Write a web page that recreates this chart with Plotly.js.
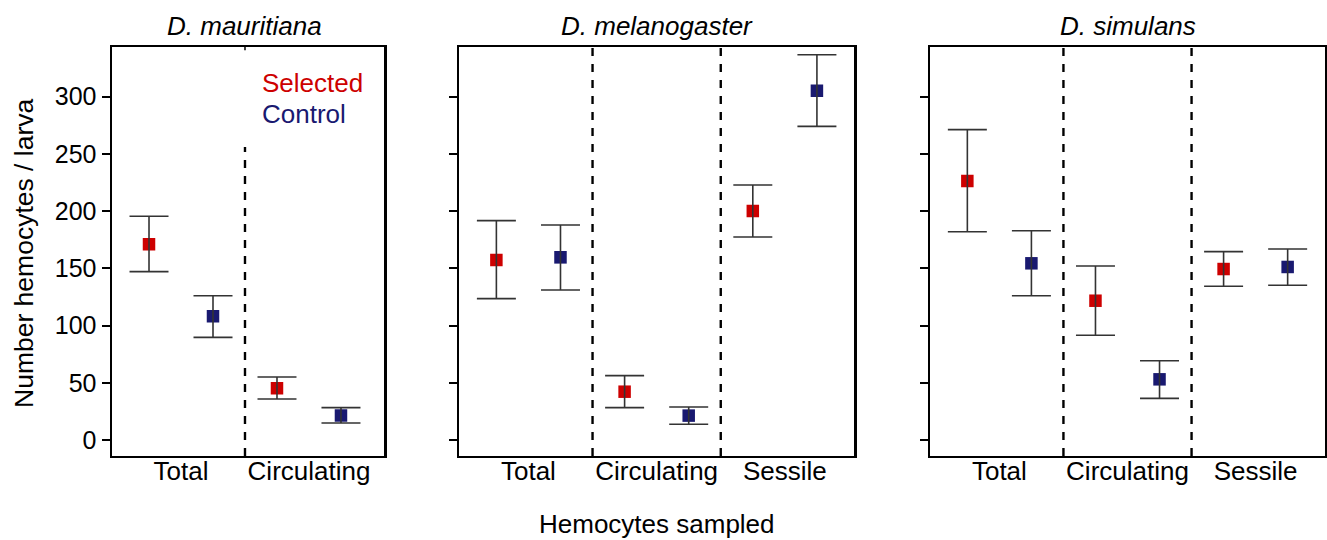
<!DOCTYPE html>
<html>
<head>
<meta charset="utf-8">
<script src="https://cdn.plot.ly/plotly-3.0.1.min.js"></script>
<style>html,body{margin:0;padding:0;background:#fff;}#chart{width:1327px;height:540px;}</style>
</head>
<body>
<div id="chart"></div>
<script>
// ---- data ----
const speciesNames = ['D. mauritiana', 'D. melanogaster', 'D. simulans'];
const categoriesMaur = ['Total', 'Circulating'];
const categoriesOther = ['Total', 'Circulating', 'Sessile'];

const maurSelMean = [171.0, 45.2];
const maurSelHi   = [195.5, 55.1];
const maurSelLo   = [147.1, 35.8];
const maurCtlMean = [108.1, 21.3];
const maurCtlHi   = [126.1, 28.3];
const maurCtlLo   = [89.7, 14.9];

const melSelMean = [157.3, 42.2, 200.1];
const melSelHi   = [191.7, 56.2, 222.8];
const melSelLo   = [123.5, 28.3, 177.4];
const melCtlMean = [159.6, 21.3, 305.3];
const melCtlHi   = [187.9, 28.8, 336.7];
const melCtlLo   = [131.1, 13.7, 274.1];

const simSelMean = [226.3, 121.7, 149.4];
const simSelHi   = [271.2, 152.1, 164.6];
const simSelLo   = [182.0, 91.5, 134.3];
const simCtlMean = [154.4, 53.0, 151.2];
const simCtlHi   = [182.9, 69.3, 166.9];
const simCtlLo   = [126.1, 36.4, 135.2];

const yTickVals = [0, 50, 100, 150, 200, 250, 300];
const legendLabels = ['Selected', 'Control'];
const yTitle = 'Number hemocytes / larva';
const xTitle = 'Hemocytes sampled';

// ---- styling ----
const RED = '#CD0000';
const BLUE = '#191970';
const ERR = '#333333';
const FONT = 'Arial, "Liberation Sans", sans-serif';
const W = 1327, H = 540;

const panels = [
  {cats: categoriesMaur, sel: [maurSelMean, maurSelHi, maurSelLo], ctl: [maurCtlMean, maurCtlHi, maurCtlLo], px: [111.7, 384.3], xr: [0.417, 4.677]},
  {cats: categoriesOther, sel: [melSelMean, melSelHi, melSelLo], ctl: [melCtlMean, melCtlHi, melCtlLo], px: [459, 854.3], xr: [0.417, 6.583]},
  {cats: categoriesOther, sel: [simSelMean, simSelHi, simSelLo], ctl: [simCtlMean, simCtlHi, simCtlLo], px: [930, 1325], xr: [0.417, 6.583]}
];
const yDom = [1 - 456 / H, 1 - 46.7 / H];
const yRange = [-14, 343.7];

const traces = [];
const shapes = [];
const annotations = [];
const layout = {
  width: W, height: H,
  margin: {l: 0, r: 0, t: 0, b: 0},
  paper_bgcolor: '#fff', plot_bgcolor: '#fff',
  showlegend: false,
  font: {family: FONT, color: '#000', size: 26}
};

panels.forEach((p, k) => {
  const xa = k === 0 ? 'x' : 'x' + (k + 1);
  const ya = k === 0 ? 'y' : 'y' + (k + 1);
  const xs = p.cats.map((c, i) => 2 * i + 1);
  const xc = p.cats.map((c, i) => 2 * i + 2);
  const series = [[xs, p.sel, RED], [xc, p.ctl, BLUE]];
  // markers
  series.forEach(([xv, d, col]) => {
    traces.push({
      type: 'scatter', mode: 'markers', x: xv, y: d[0], xaxis: xa, yaxis: ya,
      marker: {symbol: 'square', size: 12.5, color: col, line: {width: 0}},
      hoverinfo: 'skip'
    });
  });
  // error bars drawn over markers
  series.forEach(([xv, d]) => {
    traces.push({
      type: 'scatter', mode: 'markers', x: xv, y: d[0], xaxis: xa, yaxis: ya,
      marker: {size: 1, color: 'rgba(0,0,0,0)'},
      error_y: {type: 'data', symmetric: false,
        array: d[0].map((m, i) => d[1][i] - m),
        arrayminus: d[0].map((m, i) => m - d[2][i]),
        color: ERR, thickness: 1.6, width: 19.5},
      hoverinfo: 'skip'
    });
  });
  const xKey = k === 0 ? 'xaxis' : 'xaxis' + (k + 1);
  const yKey = k === 0 ? 'yaxis' : 'yaxis' + (k + 1);
  layout[xKey] = {
    domain: [p.px[0] / W, p.px[1] / W], range: p.xr, anchor: ya,
    showgrid: false, zeroline: false, showline: true, mirror: true,
    linecolor: '#000', linewidth: 2.2,
    tickmode: 'array', tickvals: p.cats.map((c, i) => 2 * i + 1.5), ticktext: p.cats,
    ticks: '', ticklabelstandoff: -9,
    tickfont: {family: FONT, size: 26, color: '#000'}, fixedrange: true
  };
  layout[yKey] = {
    domain: yDom, range: yRange, anchor: xa,
    showgrid: false, zeroline: false, showline: true, mirror: true,
    linecolor: '#000', linewidth: 2.2,
    tickmode: 'array', tickvals: yTickVals,
    ticks: 'outside', ticklen: 8, tickwidth: 2, tickcolor: '#000',
    showticklabels: k === 0,
    tickfont: {family: FONT, size: 25, color: '#000'}, fixedrange: true
  };
  // dashed separators between groups
  for (let i = 1; i < p.cats.length; i++) {
    const xm = 2 * i + 0.5;
    shapes.push({type: 'line', xref: xa, yref: ya, x0: xm, x1: xm,
      y0: yRange[0], y1: k === 0 ? 256 : yRange[1],
      line: {color: '#000', width: 2.4, dash: '8px,8px'}});
    if (k === 0) {
      shapes.push({type: 'line', xref: xa, yref: ya, x0: xm, x1: xm,
        y0: 340.5, y1: yRange[1], line: {color: '#000', width: 1.5}});
    }
  }
});

// subplot titles
const titleX = [244.2, 656.8, 1128.3];
speciesNames.forEach((s, k) => {
  annotations.push({xref: 'paper', yref: 'paper', x: titleX[k] / W, y: 1 - 26 / H,
    xanchor: 'center', yanchor: 'middle', showarrow: false,
    text: '<i>' + s + '</i>', font: {family: FONT, size: 26, color: '#000'}});
});
// in-plot legend texts
annotations.push({xref: 'paper', yref: 'paper', x: 259.5 / W, y: 1 - 82.5 / H,
  xanchor: 'left', yanchor: 'middle', showarrow: false,
  text: legendLabels[0], font: {family: FONT, size: 26, color: RED}});
annotations.push({xref: 'paper', yref: 'paper', x: 259.5 / W, y: 1 - 114 / H,
  xanchor: 'left', yanchor: 'middle', showarrow: false,
  text: legendLabels[1], font: {family: FONT, size: 26, color: BLUE}});
// axis titles
annotations.push({xref: 'paper', yref: 'paper', x: 24 / W, y: 1 - 253 / H,
  xanchor: 'center', yanchor: 'middle', showarrow: false, textangle: -90,
  text: yTitle, font: {family: FONT, size: 26.5, color: '#000'}});
annotations.push({xref: 'paper', yref: 'paper', x: 656.5 / W, y: 1 - 524 / H,
  xanchor: 'center', yanchor: 'middle', showarrow: false,
  text: xTitle, font: {family: FONT, size: 26, color: '#000'}});

layout.shapes = shapes;
layout.annotations = annotations;

Plotly.newPlot('chart', traces, layout, {staticPlot: true, displayModeBar: false});
</script>
</body>
</html>
